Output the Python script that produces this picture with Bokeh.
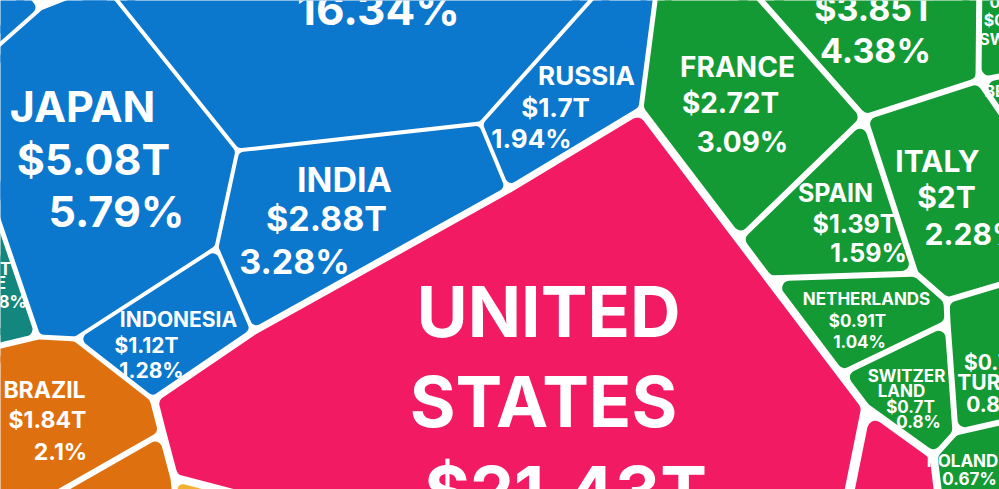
import numpy as np
from bokeh.plotting import figure
from bokeh.models import Range1d, ColumnDataSource
from bokeh.embed import file_html
from bokeh.resources import INLINE
from bokeh.core.properties import value

# ---- data -------------------------------------------------------------
countries = ["China", "Japan", "India", "Russia", "Indonesia", "UAE",
             "United States", "Brazil", "Mexico", "Africa",
             "Germany", "France", "Spain", "Italy", "Netherlands",
             "Switzerland", "Turkey", "Poland", "Sweden", "Belgium", "Canada",
             "Korea", "Asia other"]
gdp_trillion = [14.34, 5.08, 2.88, 1.70, 1.12, 0.42,
                21.43, 1.84, 1.26, 0.40,
                3.85, 2.72, 1.39, 2.00, 0.91,
                0.70, 0.75, 0.59, 0.53, 0.53, 1.74,
                1.64, 0.30]
share_pct = [16.34, 5.79, 3.28, 1.94, 1.28, 0.48,
             24.42, 2.10, 1.44, 0.46,
             4.38, 3.09, 1.59, 2.28, 1.04,
             0.80, 0.86, 0.67, 0.60, 0.60, 1.98,
             1.87, 0.34]
region = ["asia", "asia", "asia", "asia", "asia", "mideast",
          "namerica", "samerica", "samerica", "africa",
          "europe", "europe", "europe", "europe", "europe",
          "europe", "europe", "europe", "europe", "europe", "namerica",
          "asia", "asia"]

region_color = {"asia": "#0b77cd", "europe": "#149a34", "namerica": "#f21b63",
                "samerica": "#df700f", "mideast": "#13877e", "africa": "#efb12f"}
# half gap between neighbours, and corner rounding radius (px)
region_gap = {"asia": 2.0, "europe": 3.0, "namerica": 5.0,
              "samerica": 3.0, "mideast": 3.0, "africa": 3.0}
region_round = {"asia": 6.0, "europe": 7.0, "namerica": 8.0,
                "samerica": 7.0, "mideast": 7.0, "africa": 5.0}

# ---- cell outlines (screen coordinates, y downward) ---------------------
cell_outline = {
    "Korea":       [(-30, -30), (10, -30), (40, 8), (-30, 70)],
    "Asia other":  [(40, 8), (10, -30), (100, -30), (103, -17)],
    "Japan":       [(-30, 70), (40, 8), (103, -17), (237, 150), (216, 247),
                    (75, 338), (38, 336), (-30, 136)],
    "UAE":         [(-30, 136), (38, 336), (-30, 352)],
    "China":       [(103, -17), (100, -30), (617, -30), (480, 123), (237, 150)],
    "Russia":      [(617, -30), (658, -30), (640, 108), (507, 188), (480, 123)],
    "India":       [(237, 150), (480, 123), (507, 188), (252, 330), (216, 247)],
    "Indonesia":   [(216, 247), (252, 330), (152, 398), (75, 338)],
    "Brazil":      [(-30, 352), (38, 336), (75, 338), (152, 398), (161, 433),
                    (-30, 542)],
    "Mexico":      [(161, 433), (173, 478), (180, 545), (-30, 542)],
    "Africa":      [(173, 478), (430, 545), (180, 545)],
    "United States": [(640, 108), (866, 406), (838, 545), (430, 545),
                      (173, 478), (161, 433), (152, 398), (252, 330), (507, 188)],
    "France":      [(658, -30), (734, -30), (864, 117), (739, 238), (640, 108)],
    "Germany":     [(734, -30), (979, -30), (978, 80), (864, 117)],
    "Sweden":      [(979, -30), (1030, -30), (1030, 70), (978, 80)],
    "Belgium":     [(978, 80), (1030, 70), (1030, 155)],
    "Italy":       [(864, 117), (978, 80), (1030, 155), (1030, 275), (946, 300),
                    (915, 273)],
    "Spain":       [(739, 238), (864, 117), (915, 273), (769, 278)],
    "Netherlands": [(769, 278), (915, 273), (946, 300), (947, 322), (841, 373)],
    "Switzerland": [(841, 373), (947, 322), (955, 432), (934, 455), (866, 406)],
    "Turkey":      [(946, 300), (1030, 275), (1030, 415), (955, 432), (947, 322)],
    "Poland":      [(955, 432), (1030, 415), (1030, 545), (945, 545), (934, 455)],
    "Canada":      [(866, 406), (934, 455), (945, 545), (838, 545)],
}

# label lines: (text kind, anchor x, baseline y, font px, alignment)
label_layout = {
    "China": [("name", 378, -75, 44), ("value", 378, -25, 44), ("pct", 378, 25, 44)],
    "Japan": [("name", 82, 122, 43), ("value", 93, 175, 43), ("pct", 116, 227, 43)],
    "India": [("name", 344, 192, 34), ("value", 326, 231, 34), ("pct", 294, 274, 34)],
    "Russia": [("name", 586, 85, 26), ("value", 555, 117, 26), ("pct", 531, 148, 26)],
    "Indonesia": [("name", 178, 327, 21), ("value", 146, 353, 21), ("pct", 151, 378, 21)],
    "Brazil": [("name", 44, 398, 23), ("value", 47, 428, 23), ("pct", 60, 460, 23)],
    "United States": [("UNITED", 548, 338, 70), ("STATES", 543, 428, 70),
                      ("value", 565, 518, 70)],
    "France": [("name", 737, 77, 28), ("value", 730, 113, 28), ("pct", 742, 152, 28)],
    "Germany": [("name", 872, -25, 34), ("value", 874, 21, 34), ("pct", 875, 63, 34)],
    "Spain": [("name", 835, 202, 25), ("value", 854, 233, 25), ("pct", 868, 262, 25)],
    "Italy": [("name", 937, 172, 30), ("value", 946, 208, 30), ("pct", 973, 245, 30)],
    "Netherlands": [("name", 866, 305, 17), ("value", 857, 327, 17), ("pct", 859, 348, 17)],
    "Switzerland": [("SWITZER", 906, 382, 17), ("LAND", 901, 397, 17),
                    ("value", 910, 413, 17), ("pct", 918, 428, 17)],
    "Poland": [("name", 962, 467, 17), ("pct", 969, 485, 17)],
    "Turkey": [("value", 1000, 370, 21), ("name", 1000, 390, 21), ("pct", 1000, 412, 21)],
    "UAE": [("value", -20, 275, 17), ("name", -12, 289, 17), ("pct", -2, 308, 17)],
    "Sweden": [("pct", 1010, 8, 16), ("value", 1012, 26, 16), ("name", 1014, 45, 16)],
    "Belgium": [("name", 1020, 97, 16)],
}
# the svg text box sits lower than the requested baseline by this fraction of the size
BASELINE_SHIFT = 0.38


def inset(poly, d):
    """Shift every edge of a convex polygon inward by d and re-intersect."""
    P = np.asarray(poly, dtype=float)
    n = len(P)
    area = 0.5 * np.sum(P[:, 0] * np.roll(P[:, 1], -1) - np.roll(P[:, 0], -1) * P[:, 1])
    sgn = 1.0 if area > 0 else -1.0
    lines = []
    for i in range(n):
        a, b = P[i], P[(i + 1) % n]
        e = (b - a) / np.linalg.norm(b - a)
        nrm = np.array([-e[1], e[0]]) * sgn
        lines.append((a + nrm * d, e))
    out = []
    for i in range(n):
        p1, d1 = lines[i - 1]
        p2, d2 = lines[i]
        t, _ = np.linalg.solve(np.array([d1, -d2]).T, p2 - p1)
        out.append(p1 + t * d1)
    return np.array(out)


xs, ys, fills, widths = [], [], [], []
for name, reg in zip(countries, region):
    g, r = region_gap[reg], region_round[reg]
    poly = inset(cell_outline[name], g + r)
    xs.append(list(poly[:, 0]))
    ys.append(list(poly[:, 1]))
    fills.append(region_color[reg])
    widths.append(2 * r)

cells = ColumnDataSource(dict(xs=xs, ys=ys, fill=fills, lw=widths))


def fmt_value(v):
    return "$" + f"{v:.2f}".rstrip("0").rstrip(".") + "T"


def fmt_pct(v):
    return f"{v:.2f}".rstrip("0").rstrip(".") + "%"


tx, ty, tt, ts = [], [], [], []
for name, val, pct in zip(countries, gdp_trillion, share_pct):
    for kind, cx, by, size in label_layout.get(name, []):
        if kind == "name":
            txt = name.upper()
        elif kind == "value":
            txt = fmt_value(val)
        elif kind == "pct":
            txt = fmt_pct(pct)
        else:
            txt = kind
        tx.append(cx)
        ty.append(by - BASELINE_SHIFT * size)
        tt.append(txt)
        ts.append(f"{size}px")
labels = ColumnDataSource(dict(x=tx, y=ty, text=tt, size=ts))

p = figure(width=999, height=489, output_backend="svg", toolbar_location=None,
           x_range=Range1d(0, 999), y_range=Range1d(489, 0),
           min_border=0, background_fill_color="white", border_fill_color="white")
p.axis.visible = False
p.grid.visible = False
p.outline_line_color = None

p.patches("xs", "ys", source=cells, fill_color="fill", line_color="fill",
          line_width="lw", line_join="round")
p.text("x", "y", text="text", source=labels, text_color="white",
       text_font=value("Inter"), text_font_style="bold", text_font_size="size",
       text_align="center", text_baseline="alphabetic")

open("out.html", "w").write(file_html(p, INLINE))
